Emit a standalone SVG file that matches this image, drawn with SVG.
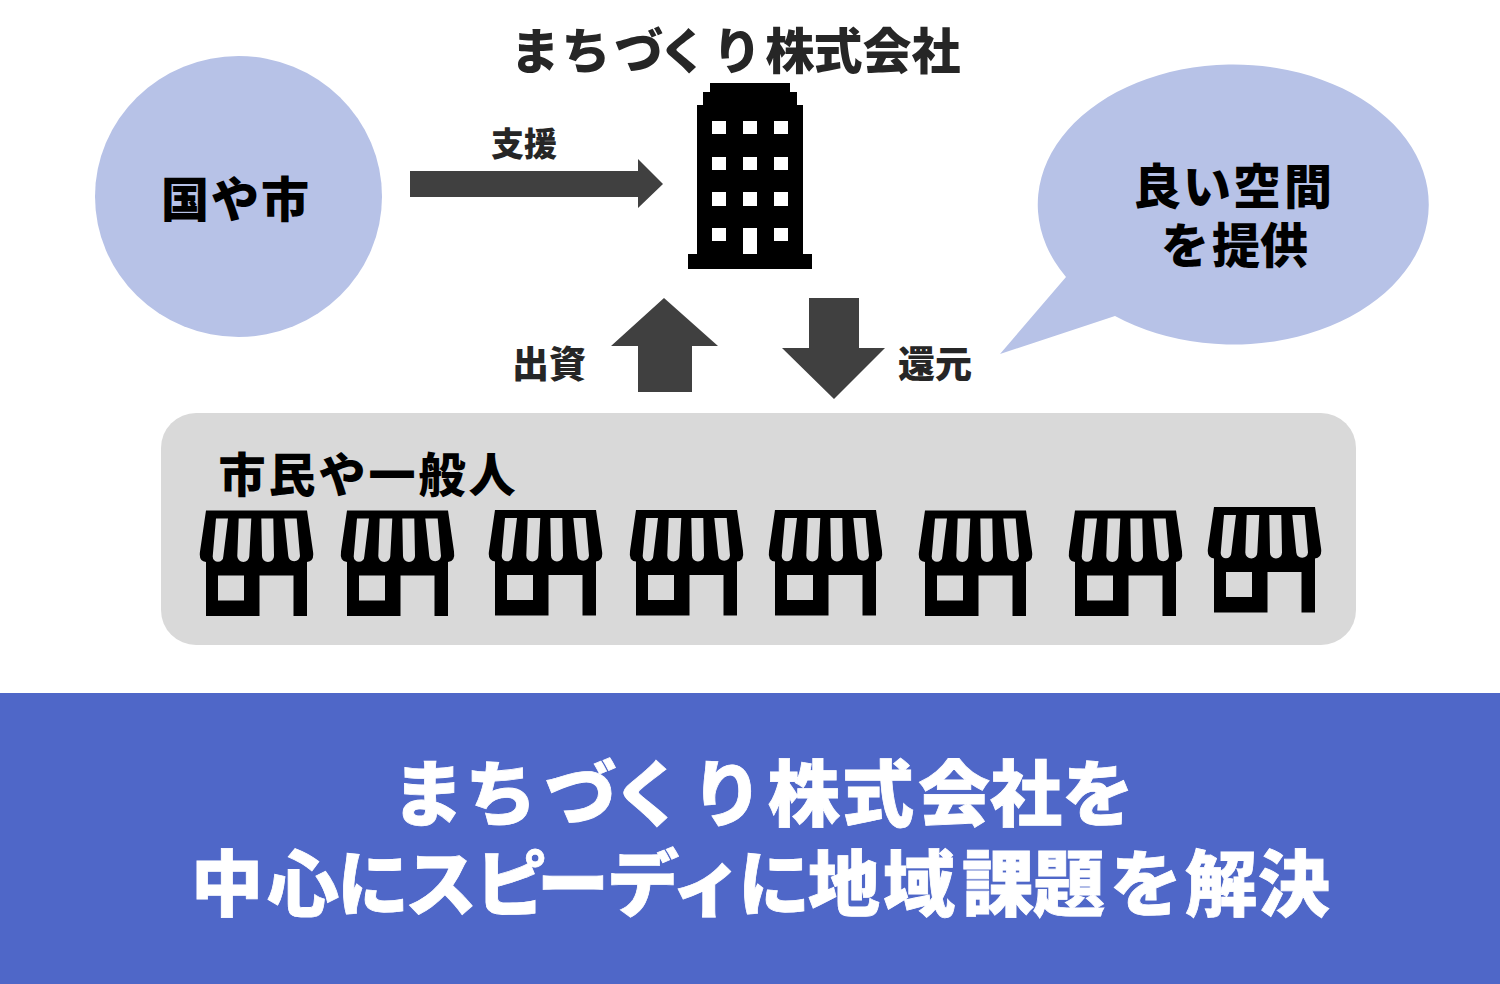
<svg xmlns="http://www.w3.org/2000/svg" xmlns:xlink="http://www.w3.org/1999/xlink" width="1500" height="984" viewBox="0 0 1500 984">
<style>
text{font-family:"Noto Sans CJK JP","Noto Sans",sans-serif;font-weight:900;fill:#000;text-anchor:middle}
.bub{fill:#b7c2e7}
.arr{fill:#404040}
text.dk{fill:#262626}
text.w{fill:#fff;stroke:#fff;stroke-width:.8}
</style>
<defs>
<path id="shop" fill-rule="evenodd" d="M6 0H107L113 41Q114.500 51 107 51.500V105.500H93.500V65H59.500V105.500H6V51.500Q-1.500 51 0 41ZM18 65V90H44V65ZM16 8L12.700 46A5.300 5.300 0 0 0 23.300 46L28 8ZM38.700 8L37.300 45.500A6 6 0 0 0 49.300 45.500L51.300 8ZM61.300 8L62 45.500A6 6 0 0 0 74 45.500L73.300 8ZM84.300 8L88.300 45.500A5.900 5.900 0 0 0 100 45.500L96.700 8Z"/>
</defs>
<rect id="banner-bg" x="0" y="693" width="1500" height="291" fill="#4f67c8"/>
<g id="node-kuni">
<ellipse class="bub" cx="238.500" cy="196.500" rx="143.500" ry="140.500"/>
<text x="236" y="217" font-size="48" letter-spacing="2">国や市</text>
</g>
<g id="node-company">
<text class="dk" x="535 586 639 683 737 790 838 887 936" y="69" font-size="49">まちづくり株式会社</text>
<path fill-rule="evenodd" fill="#000" d="M710 83H790V92H797V105H803V254H812V269H688V254H697V105H703V92H710ZM712 121V134H726V121ZM743 121V134H757V121ZM774 121V134H788V121ZM712 157V170H726V157ZM743 157V170H757V157ZM774 157V170H788V157ZM712 192V206H726V192ZM743 192V206H757V192ZM774 192V206H788V192ZM712 228V241H726V228ZM743 228V254H757V228ZM774 228V241H788V228Z"/>
</g>
<g id="node-space">
<path class="bub" d="M1000 354L1066 277A195.500 140 0 1 1 1115 316Z"/>
<text x="1157 1207 1257 1308" y="204" font-size="48">良い空間</text>
<text x="1185 1236 1284" y="263" font-size="48">を提供</text>
</g>
<g id="node-citizens">
<rect x="161" y="413" width="1195" height="232" rx="35" fill="#d9d9d9"/>
<text x="242 292 342 392 442 492" y="492" font-size="47">市民や一般人</text>
<use xlink:href="#shop" href="#shop" x="200" y="510.500"/>
<use xlink:href="#shop" href="#shop" x="341" y="510.500"/>
<use xlink:href="#shop" href="#shop" x="489" y="510"/>
<use xlink:href="#shop" href="#shop" x="630" y="510"/>
<use xlink:href="#shop" href="#shop" x="769" y="510"/>
<use xlink:href="#shop" href="#shop" x="919" y="510.500"/>
<use xlink:href="#shop" href="#shop" x="1069" y="510.500"/>
<use xlink:href="#shop" href="#shop" x="1208" y="507"/>
</g>
<g id="connectors">
<path class="arr" d="M410 171H638V159L663 184L638 208V197H410Z"/>
<path class="arr" d="M664 298L718 346H692V392H638V346H611Z"/>
<path class="arr" d="M809 298H859V348H885L834 399L782 348H809Z"/>
<text class="dk" x="524" y="156" font-size="33">支援</text>
<text class="dk" x="549" y="378" font-size="37">出資</text>
<text class="dk" x="935" y="378" font-size="37">還元</text>
</g>
<g id="banner">
<text class="w" x="428 501 581 648 727 804 878 954 1026 1098" y="820" font-size="72">まちづくり株式会社を</text>
<text class="w" x="227 303 373 441 511 573 643 707 774 844 919 998 1069 1146 1221 1294" y="910" font-size="72">中心にスピーディに地域課題を解決</text>
</g>
</svg>
